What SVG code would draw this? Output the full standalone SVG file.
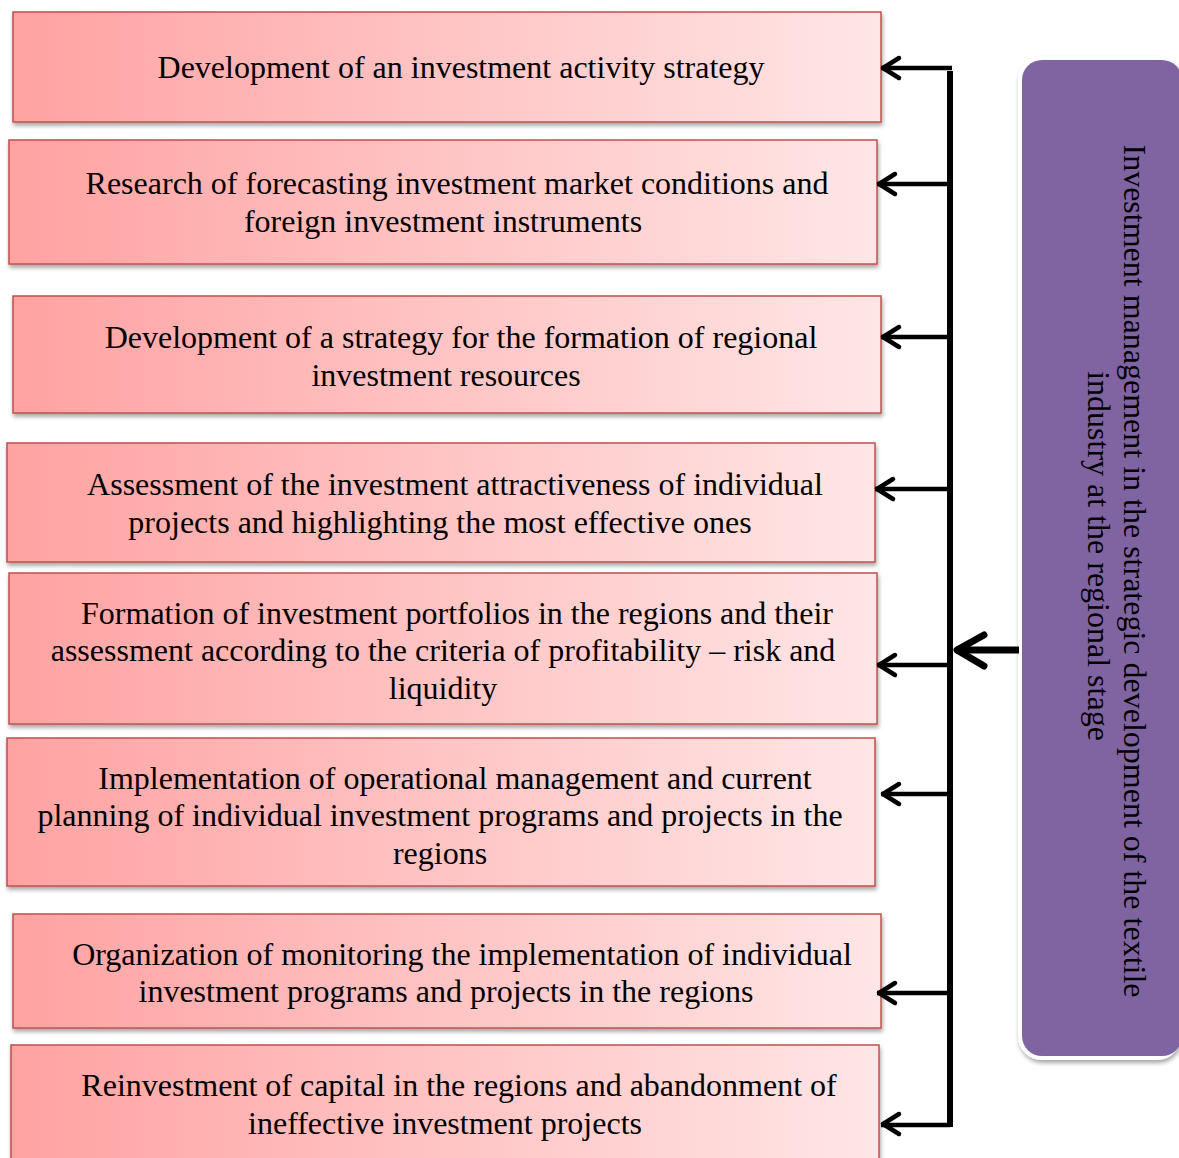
<svg xmlns="http://www.w3.org/2000/svg" width="1179" height="1158" viewBox="0 0 1179 1158">
<defs>
<linearGradient id="g" x1="0" y1="0" x2="1" y2="0">
<stop offset="0" stop-color="#FFA2A2"/>
<stop offset="0.5" stop-color="#FFC4C4"/>
<stop offset="1" stop-color="#FFE6E6"/>
</linearGradient>
<filter id="sh" x="-5%" y="-5%" width="110%" height="120%">
<feDropShadow dx="1" dy="3" stdDeviation="2" flood-color="#000" flood-opacity="0.35"/>
</filter>
</defs>
<style>
.box{fill:url(#g);stroke:#C0504D;stroke-width:1.5;filter:url(#sh)}
.t{font-family:"Liberation Serif","Times New Roman",serif;font-size:32px;fill:#000;text-anchor:middle}
.ln{stroke:#000;stroke-width:4.5;fill:none}
.hd{stroke:#000;stroke-width:4.5;fill:none;stroke-linecap:round;stroke-linejoin:round}
</style>
<g id="n1"><rect class="box" x="13" y="12" width="868" height="110"/><text class="t" x="461" y="78">Development of an investment activity strategy</text></g>
<g id="n2"><rect class="box" x="9" y="140" width="868" height="124"/><text class="t" x="457" y="194">Research of forecasting investment market conditions and</text><text class="t" x="443" y="232">foreign investment instruments</text></g>
<g id="n3"><rect class="box" x="13" y="296" width="868" height="117"/><text class="t" x="461" y="348">Development of a strategy for the formation of regional</text><text class="t" x="446" y="386">investment resources</text></g>
<g id="n4"><rect class="box" x="7" y="443" width="868" height="119"/><text class="t" x="455" y="495">Assessment of the investment attractiveness of individual</text><text class="t" x="440" y="533">projects and highlighting the most effective ones</text></g>
<g id="n5"><rect class="box" x="9" y="573" width="868" height="151"/><text class="t" x="457" y="624">Formation of investment portfolios in the regions and their</text><text class="t" x="443" y="661">assessment according to the criteria of profitability – risk and</text><text class="t" x="443" y="699">liquidity</text></g>
<g id="n6"><rect class="box" x="7" y="738" width="868" height="148"/><text class="t" x="455" y="789">Implementation of operational management and current</text><text class="t" x="440" y="826">planning of individual investment programs and projects in the</text><text class="t" x="440" y="864">regions</text></g>
<g id="n7"><rect class="box" x="13" y="914" width="868" height="114"/><text class="t" x="462" y="965">Organization of monitoring the implementation of individual</text><text class="t" x="446" y="1002">investment programs and projects in the regions</text></g>
<g id="n8"><rect class="box" x="11" y="1045" width="868" height="120"/><text class="t" x="459" y="1096">Reinvestment of capital in the regions and abandonment of</text><text class="t" x="445" y="1134">ineffective investment projects</text></g>
<g id="main"><rect x="1018" y="56" width="163" height="1004" rx="24" fill="#fff" filter="url(#sh)"/><rect x="1022" y="60" width="160" height="996" rx="20" fill="#8064A2"/>
<text class="t" transform="translate(1124,571) rotate(90)">Investment management in the strategic development of the textile</text>
<text class="t" transform="translate(1088,556) rotate(90)">industry at the regional stage</text></g>
<g id="connectors">
<path class="ln" d="M881 68 H952 M950 1125 H881 M950 184 H877 M950 337 H881 M950 489 H875 M950 665 H877 M950 794 H881 M950 993 H877"/>
<path d="M950 71 V1127" stroke="#000" stroke-width="6" fill="none"/>
<path class="hd" d="M899 58 L883 68 L899 78"/>
<path class="hd" d="M895 174 L879 184 L895 194"/>
<path class="hd" d="M899 327 L883 337 L899 347"/>
<path class="hd" d="M893 479 L877 489 L893 499"/>
<path class="hd" d="M895 655 L879 665 L895 675"/>
<path class="hd" d="M899 784 L883 794 L899 804"/>
<path class="hd" d="M895 983 L879 993 L895 1003"/>
<path class="hd" d="M899 1114 L883 1124 L899 1134"/>
<path d="M1019 650 H956" stroke="#000" stroke-width="7" fill="none"/>
<path d="M984 635 L957 650 L984 666" stroke="#000" stroke-width="7" fill="none" stroke-linecap="round" stroke-linejoin="round"/>
</g>
</svg>
